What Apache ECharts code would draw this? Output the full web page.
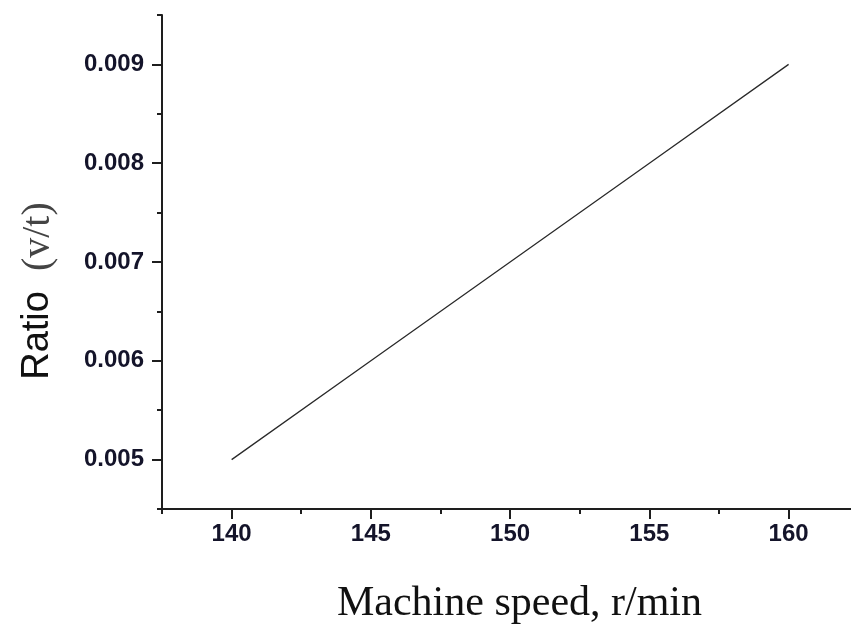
<!DOCTYPE html>
<html>
<head>
<meta charset="utf-8">
<script src="https://cdn.jsdelivr.net/npm/echarts@6/dist/echarts.min.js"></script>
<style>html,body{margin:0;padding:0;background:#fff;}#c{width:851px;height:630px;}</style>
</head>
<body>
<div id="c"></div>
<script>
const speeds = [140, 145, 150, 155, 160];
const ratios = [0.005, 0.006, 0.007, 0.008, 0.009];
const xMajorTicks = [140, 145, 150, 155, 160];
const xMinorTicks = [137.5, 142.5, 147.5, 152.5, 157.5];
const yMajorTicks = [0.005, 0.006, 0.007, 0.008, 0.009];
const yMinorTicks = [0.0045, 0.0055, 0.0065, 0.0075, 0.0085, 0.0095];

const chart = echarts.init(document.getElementById('c'), null, {renderer: 'canvas'});
const axisColor = '#1e1e1e';
const labelStyle = {color: '#14142a', fontFamily: 'Liberation Sans, Arial', fontWeight: 'bold', fontSize: 24};
const xMin = 137.5, xMax = 162.24, yMin = 0.0045, yMax = 0.0095;

chart.setOption({
  animation: false,
  backgroundColor: '#fff',
  grid: {left: 162, right: 0, top: 15, bottom: 116, containLabel: false},
  xAxis: [{
    type: 'value', min: xMin, max: xMax, position: 'bottom',
    splitLine: {show: false},
    axisLine: {show: true, lineStyle: {color: axisColor, width: 2}},
    axisTick: {show: true, customValues: xMajorTicks, length: 10, lineStyle: {color: axisColor, width: 2}},
    axisLabel: {show: true, customValues: xMajorTicks, margin: 13, ...labelStyle, formatter: v => String(Math.round(v))},
    name: 'Machine speed, r/min', nameLocation: 'middle', nameGap: 74,
    nameTextStyle: {fontFamily: 'Liberation Serif, Times New Roman', fontSize: 42, color: '#111', padding: [0, 0, 0, 26]}
  }, {
    type: 'value', min: xMin, max: xMax, position: 'bottom', offset: 0,
    splitLine: {show: false},
    axisLine: {show: false},
    axisTick: {show: true, customValues: xMinorTicks, length: 5, lineStyle: {color: axisColor, width: 2}},
    axisLabel: {show: false}
  }],
  yAxis: [{
    type: 'value', min: yMin, max: yMax, position: 'left',
    splitLine: {show: false},
    axisLine: {show: true, lineStyle: {color: axisColor, width: 2}},
    axisTick: {show: true, customValues: yMajorTicks, length: 10, lineStyle: {color: axisColor, width: 2}},
    axisLabel: {show: true, customValues: yMajorTicks, margin: 18, ...labelStyle, formatter: v => v.toFixed(3)},
    name: '{a|Ratio}{s| }{b|(v/t)}', nameLocation: 'middle', nameGap: 104, nameRotate: 90,
    nameTextStyle: {
      padding: [0, 58, 0, 0],
      rich: {
        a: {fontFamily: 'Liberation Sans, Arial', fontSize: 38, color: '#111'},
        s: {fontSize: 20, width: 20},
        b: {fontFamily: 'Liberation Serif, Times New Roman', fontSize: 40, color: '#444'}
      }
    }
  }, {
    type: 'value', min: yMin, max: yMax, position: 'left', offset: 0,
    splitLine: {show: false},
    axisLine: {show: false},
    axisTick: {show: true, customValues: yMinorTicks, length: 5, lineStyle: {color: axisColor, width: 2}},
    axisLabel: {show: false}
  }],
  series: [{
    type: 'line',
    xAxisIndex: 0, yAxisIndex: 0,
    data: speeds.map((s, i) => [s, ratios[i]]),
    showSymbol: false, symbol: 'none',
    lineStyle: {color: '#2a2a2a', width: 1.3}
  }]
});
</script>
</body>
</html>
